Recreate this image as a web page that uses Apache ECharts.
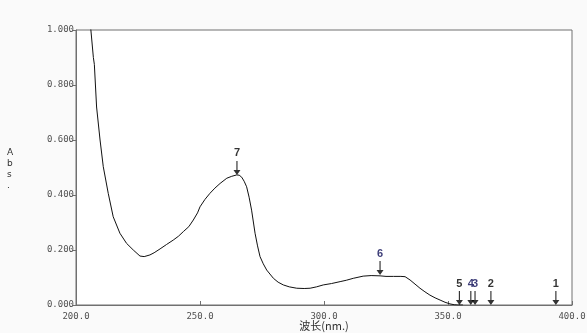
<!DOCTYPE html>
<html><head><meta charset="utf-8">
<script src="https://cdn.jsdelivr.net/npm/echarts@6/dist/echarts.min.js"></script>
<style>html,body{margin:0;padding:0;background:#fafafa;overflow:hidden;}#c{width:587px;height:333px;}</style>
</head><body><div id="c"></div>
<script>
// Spectrum: wavelength (nm) and absorbance
const wavelengths = [204,206,207,207.4,208.3,209.7,211,213,215,217.7,220.4,223.1,225.8,227.5,229.8,231.5,233.9,236.5,239.2,241.3,243.3,245.5,247.3,249,250,252,254,256,258.1,260.8,262.8,264.8,265.8,266.8,267.8,268.8,269.8,270.8,272.2,273.2,274.2,275.5,276.9,279.6,281.5,283.6,286,289,292,294.4,297,299.7,303,306.5,309,311.8,315.8,319,322.6,325,328,331,332.7,334.7,336.7,338.7,340.7,342.7,344.8,346.8,348.8,350.8,352.5,354,356];
const absorbance  = [1.15,1.0,0.90,0.875,0.72,0.60,0.503,0.406,0.321,0.261,0.224,0.200,0.178,0.176,0.182,0.190,0.204,0.220,0.236,0.250,0.267,0.285,0.309,0.335,0.357,0.384,0.406,0.425,0.442,0.461,0.468,0.473,0.472,0.465,0.450,0.430,0.392,0.345,0.261,0.215,0.176,0.150,0.127,0.097,0.083,0.073,0.066,0.061,0.060,0.061,0.066,0.073,0.078,0.085,0.090,0.097,0.105,0.107,0.106,0.104,0.104,0.104,0.103,0.091,0.076,0.061,0.048,0.036,0.026,0.018,0.010,0.004,0.001,0,0];
// Peak pick markers
const peakNames = ['7','6','5','4','3','2','1'];
const peakX     = [264.9,322.6,354.6,359.2,360.9,367.3,393.5];
const peakY     = [0.473,0.109,0,0,0,0,0];
const peakColors= ['#000','#0b0b55','#000','#0b0b55','#0b0b55','#000','#000'];
// Axis ticks
const xTicks = [200,250,300,350,400];
const yTicks = [0,0.2,0.4,0.6,0.8,1.0];

const chart = echarts.init(document.getElementById('c'), null, {renderer:'canvas'});
const lineData = wavelengths.map((w,i)=>[w,absorbance[i]]);
const peakData = peakNames.map((n,i)=>({name:n, value:[peakX[i],peakY[i]],
  label:{color:peakColors[i]}}));
const mono = '"DejaVu Sans Mono", monospace';
chart.setOption({
  animation:false,
  backgroundColor:'#fafafa',
  grid:{left:76,right:15,top:30,bottom:28,outerBoundsMode:'none',containLabel:false,show:true,backgroundColor:'#ffffff',borderColor:'#707070',borderWidth:1},
  xAxis:{type:'value',min:xTicks[0],max:xTicks[xTicks.length-1],interval:50,
    axisLine:{lineStyle:{color:'#707070',width:1}},
    axisTick:{inside:true,length:4,lineStyle:{color:'#707070'}},
    axisLabel:{margin:7,color:'#505050',fontFamily:mono,fontSize:9,formatter:v=>v.toFixed(1)},
    splitLine:{show:false},
    name:'波长(nm.)',nameLocation:'middle',nameGap:15,nameMoveOverlap:false,
    nameTextStyle:{color:'#303030',fontSize:11,fontFamily:'"Noto Sans CJK SC", sans-serif'}},
  yAxis:{type:'value',min:yTicks[0],max:yTicks[yTicks.length-1],interval:0.2,
    axisLine:{show:true,lineStyle:{color:'#707070',width:1}},
    axisTick:{show:true,length:3,lineStyle:{color:'#707070'}},
    axisLabel:{margin:2,color:'#505050',fontFamily:mono,fontSize:9,formatter:v=>v.toFixed(3)},
    splitLine:{show:false}},
  graphic:[{type:'text',left:7,top:147,style:{text:'A\nb\ns\n.',fill:'#303030',font:'9px "DejaVu Sans", sans-serif',lineHeight:11}}],
  series:[
    {type:'line',data:lineData,showSymbol:false,clip:true,lineStyle:{color:'#111',width:1},z:2},
    {type:'scatter',data:peakData,z:3,
      symbol:'path://M3,0 L4,0 L4,9 L6.5,9 L3.5,14 L0.5,9 L3,9 Z',
      symbolSize:[7,14],symbolOffset:[0,-7],
      itemStyle:{color:'#000'},
      label:{show:true,position:'top',distance:2,formatter:'{b}',fontWeight:'bold',fontSize:11,fontFamily:'"Liberation Sans", Arial, sans-serif'}}
  ]
});
</script></body></html>
